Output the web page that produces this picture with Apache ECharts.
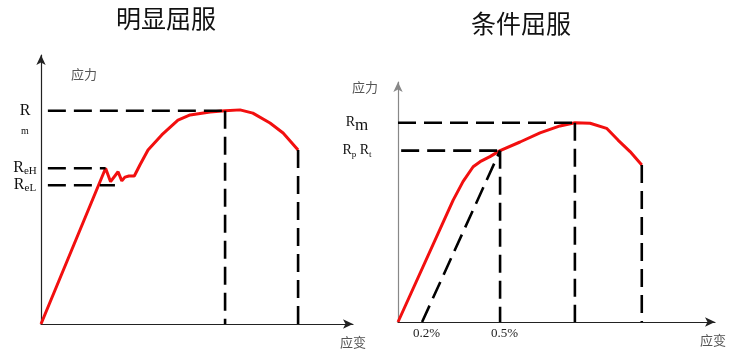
<!DOCTYPE html>
<html><head><meta charset="utf-8">
<script src="https://cdn.jsdelivr.net/npm/echarts@6/dist/echarts.min.js"></script>
<style>html,body{margin:0;padding:0;background:#fff}#c{width:735px;height:355px}</style>
</head><body><div id="c"></div>
<script>
// ---------- data ----------
const titles = ['明显屈服', '条件屈服'];
const stressName = '应力';
const strainName = '应变';

// Left panel: obvious yield (arbitrary units, axis 0..100)
const leftStrain = [0, 20.7, 22.3, 24.7, 25.9, 26.9, 28.2, 29.9, 31.7, 34.3, 38.7, 43.9, 47.8, 54.2, 59.0, 63.8, 67.9, 73.4, 77.6, 82.4];
const leftStress = [0, 57.9, 52.9, 56.6, 53.2, 54.6, 55.0, 55.0, 59.1, 64.7, 70.3, 75.8, 77.7, 78.8, 79.3, 79.6, 78.4, 74.7, 71.0, 64.7];
const leftRm = 79.3, leftReH = 57.9, leftReL = 51.6;
const leftRmStrain = 59.0, leftEndStrain = 82.4, leftEndStress = 64.7;
const leftReHStrain = 20.7, leftReLStrain = 23.7, leftDashStart = 2.2;
const leftYTickValues = [79.3, 71.7, 57.9, 51.6];
const leftYTickLabels = ['R', '{sm|m}', 'R{s|eH}', 'R{s|eL}'];

// Right panel: conditional (offset) yield
const rightStrain = [0, 17.4, 20.5, 23.7, 25.9, 29.0, 32.2, 38.5, 44.8, 51.1, 55.8, 60.6, 65.8, 69.4, 73.2, 76.9];
const rightStress = [0, 50.8, 58.5, 64.7, 66.8, 68.9, 71.4, 75.0, 78.8, 81.7, 83.0, 82.8, 80.7, 75.8, 71.0, 65.4];
const rightRm = 83.0, rightRp = 71.4;
const rightRmStrain = 55.8, rightRpStrain = 32.2, rightEndStrain = 76.9, rightEndStress = 65.4;
const rightOffsetStrain = 7.6, rightRpDashStart = 1.0;
const rightXTickValues = [7.6, 32.2];
const rightXTickLabels = ['0.2%', '0.5%'];
const rightYTickValues = [83.0, 71.4];
const rightYTickLabels = ['R{big|m}', 'R{ss|p} R{ss|t}'];

// ---------- chart ----------
const serif = '"Liberation Serif","Times New Roman",serif';
const cjk = '"Noto Sans CJK SC","Noto Sans",sans-serif';
const zip = (xs, ys) => xs.map((x, i) => [x, ys[i]]);

function axisCommon(color) {
  return {
    type: 'value', min: 0, max: 100,
    splitLine: { show: false }, axisTick: { show: false },
    axisLine: { show: true, onZero: false, symbol: ['none', 'arrow'], symbolSize: [7, 10],
      lineStyle: { color: color, width: 1.2 } }
  };
}

const dashStyle = { color: '#000', width: 2.6, type: [18, 8] };
function dashSeries(gi, pts) {
  return { type: 'line', xAxisIndex: gi, yAxisIndex: gi, data: pts, showSymbol: false,
    silent: true, lineStyle: dashStyle, z: 3, animation: false };
}
function curveSeries(gi, xs, ys) {
  return { type: 'line', xAxisIndex: gi, yAxisIndex: gi, data: zip(xs, ys), showSymbol: false,
    silent: true, lineStyle: { color: '#f20f0f', width: 3 }, z: 2, animation: false };
}

const labelRich = {
  s: { fontFamily: serif, fontSize: 11, verticalAlign: 'bottom', lineHeight: 17, color: '#111' },
  ss: { fontFamily: serif, fontSize: 9, verticalAlign: 'bottom', lineHeight: 18, color: '#111' },
  sm: { fontFamily: serif, fontSize: 10, color: '#111' },
  big: { fontFamily: serif, fontSize: 17, verticalAlign: 'bottom', lineHeight: 22, color: '#111' }
};

const option = {
  backgroundColor: '#fff',
  animation: false,
  title: [
    { text: titles[0], left: 161, top: 1, textAlign: 'center',
      textStyle: { fontFamily: cjk, fontSize: 25, fontWeight: 'normal', color: '#111' } },
    { text: titles[1], left: 516, top: 6, textAlign: 'center',
      textStyle: { fontFamily: cjk, fontSize: 25, fontWeight: 'normal', color: '#111' } }
  ],
  grid: [
    { left: 41, top: 55, width: 312, height: 269 },
    { left: 398, top: 82, width: 317, height: 240 }
  ],
  xAxis: [
    Object.assign(axisCommon('#222'), { gridIndex: 0,
      name: strainName, nameLocation: 'end', nameGap: -13,
      nameTextStyle: { fontFamily: cjk, fontSize: 13, color: '#555', verticalAlign: 'top', padding: [12, 0, 0, 0] },
      axisLabel: { show: false } }),
    Object.assign(axisCommon('#222'), { gridIndex: 1,
      name: strainName, nameLocation: 'end', nameGap: -15,
      nameTextStyle: { fontFamily: cjk, fontSize: 13, color: '#555', verticalAlign: 'top', padding: [12, 0, 0, 0] },
      axisLabel: { show: true, customValues: rightXTickValues, margin: 5, hideOverlap: false,
        fontFamily: serif, fontSize: 13, color: '#222', padding: [0, 0, 0, 9],
        formatter: (v) => rightXTickLabels[rightXTickValues.indexOf(v)] } })
  ],
  yAxis: [
    Object.assign(axisCommon('#222'), { gridIndex: 0,
      name: stressName, nameLocation: 'end', nameGap: -26,
      nameTextStyle: { fontFamily: cjk, fontSize: 13, color: '#555', align: 'left', padding: [0, 0, 0, 30] },
      axisLabel: { show: true, customValues: leftYTickValues, align: 'center', margin: 16, hideOverlap: false,
        fontFamily: serif, fontSize: 16, color: '#111', lineHeight: 17, rich: labelRich,
        formatter: (v) => leftYTickLabels[leftYTickValues.indexOf(v)] } }),
    Object.assign(axisCommon('#888'), { gridIndex: 1,
      name: stressName, nameLocation: 'end', nameGap: -12,
      nameTextStyle: { fontFamily: cjk, fontSize: 13, color: '#555', align: 'right', padding: [0, 20, 0, 0] },
      axisLabel: { show: true, customValues: rightYTickValues, align: 'center', margin: 41, hideOverlap: false,
        fontFamily: serif, fontSize: 14, color: '#111', lineHeight: 18, rich: labelRich,
        formatter: (v) => rightYTickLabels[rightYTickValues.indexOf(v)] } })
  ],
  series: [
    curveSeries(0, leftStrain, leftStress),
    dashSeries(0, [[leftDashStart, leftRm], [leftRmStrain, leftRm]]),
    dashSeries(0, [[leftDashStart, leftReH], [leftReHStrain, leftReH]]),
    dashSeries(0, [[leftDashStart, leftReL], [leftReLStrain, leftReL]]),
    dashSeries(0, [[leftRmStrain, leftRm], [leftRmStrain, 0]]),
    dashSeries(0, [[leftEndStrain, leftEndStress], [leftEndStrain, 0]]),
    curveSeries(1, rightStrain, rightStress),
    dashSeries(1, [[0, rightRm], [rightRmStrain, rightRm]]),
    dashSeries(1, [[rightRpDashStart, rightRp], [rightRpStrain, rightRp]]),
    dashSeries(1, [[rightRpStrain, rightRp], [rightRpStrain, 0]]),
    dashSeries(1, [[rightRmStrain, rightRm], [rightRmStrain, 0]]),
    dashSeries(1, [[rightEndStrain, rightEndStress], [rightEndStrain, 0]]),
    dashSeries(1, [[rightOffsetStrain, 0], [rightRpStrain, rightRp]])
  ]
};

const chart = echarts.init(document.getElementById('c'), null, { renderer: 'canvas' });
chart.setOption(option);
</script>
</body></html>
